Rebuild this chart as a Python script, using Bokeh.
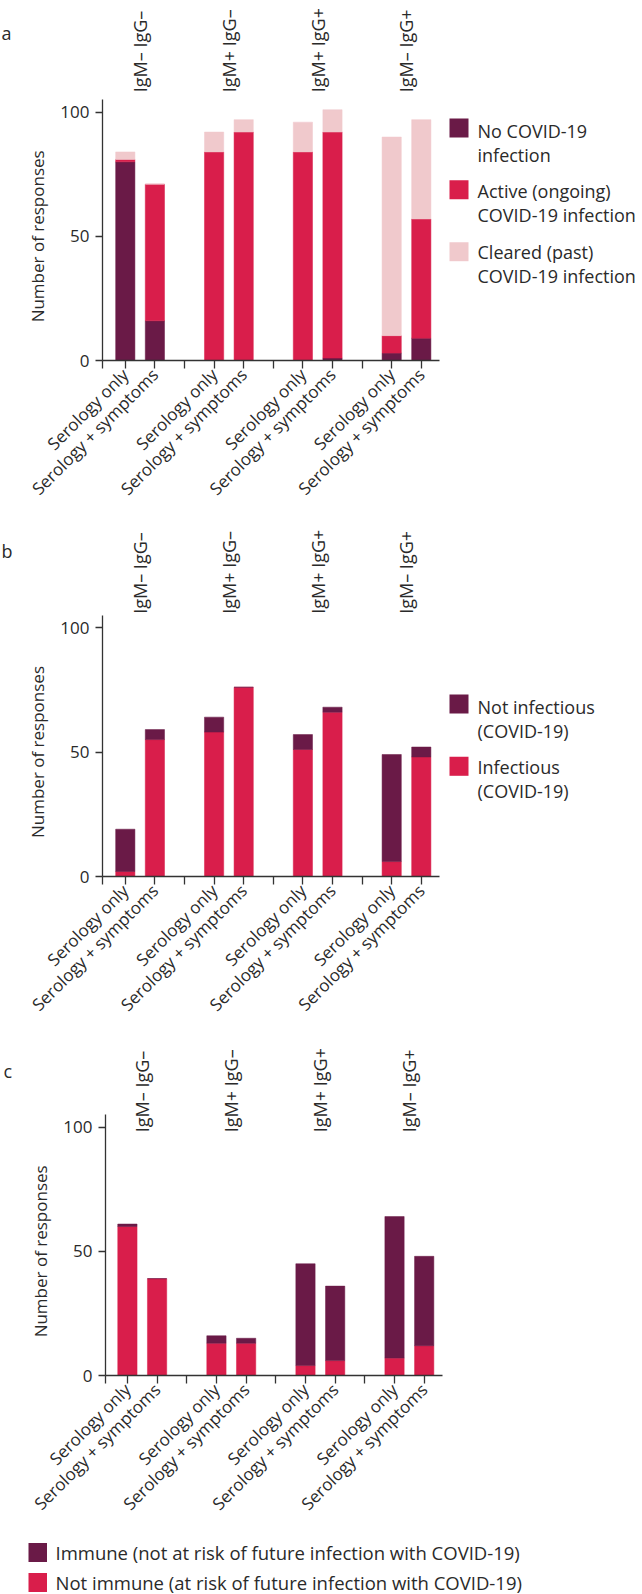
import math
from bokeh.plotting import figure
from bokeh.models import Range1d, FixedTicker, ColumnDataSource, CustomJSTickFormatter
from bokeh.layouts import column
from bokeh.embed import file_html
from bokeh.resources import INLINE
from bokeh.core.properties import value

# ---------------- data ----------------
groups = ["IgM– IgG–", "IgM+ IgG–", "IgM+ IgG+", "IgM– IgG+"]
tests = ["Serology only", "Serology + symptoms"]

# panel a
a_no_infection = [80, 16, 0, 0, 0, 1, 3, 9]
a_active = [1, 55, 84, 92, 84, 91, 7, 48]
a_cleared = [3, 0, 8, 5, 12, 9, 80, 40]
a_legend = [["No COVID-19", "infection"],
            ["Active (ongoing)", "COVID-19 infection"],
            ["Cleared (past)", "COVID-19 infection"]]

# panel b
b_infectious = [2, 55, 58, 76, 51, 66, 6, 48]
b_not_infectious = [17, 4, 6, 0, 6, 2, 43, 4]
b_legend = [["Not infectious", "(COVID-19)"], ["Infectious", "(COVID-19)"]]

# panel c
c_not_immune = [60, 39, 13, 13, 4, 6, 7, 12]
c_immune = [1, 0, 3, 2, 41, 30, 57, 36]
c_legend = ["Immune (not at risk of future infection with COVID-19)",
            "Not immune (at risk of future infection with COVID-19)"]

y_ticks = [0, 50, 100]
y_label = "Number of responses"

# ---------------- style ----------------
DARK = "#6a1a47"
RED = "#d91e4b"
PINK = "#f0c9cc"
FONT = "Open Sans"
TXT = "#2a2a2a"
AX = "#333333"
W = 642

xs = [3 * g + t + 1 for g in range(len(groups)) for t in range(len(tests))]
names = [tests[t] for g in range(len(groups)) for t in range(len(tests))]
gap_ticks = [3 * g + 3 for g in range(len(groups) - 1)]
group_x = [3 * g + 1.5 for g in range(len(groups))]


def txt(p, x, y, text, size="18px", angle=0.0, align="left"):
    p.text(x=x, y=y, text=text, angle=angle, text_align=align, text_baseline="middle",
           text_font=value(FONT), text_font_size=value(size), text_color=TXT)


def make_panel(fig_top, H, zero_y, left, x0, u, k, letter, letter_xy, ylab_x, label_start_y,
               stackers, colors, data):
    """zero_y/left: page position of the axes origin; u, k: pixels per unit."""
    X0 = x0 - left / u
    X1 = X0 + W / u
    frame_bottom = zero_y
    Ytop = (zero_y - fig_top) / k
    Ybot = (zero_y - fig_top - H) / k

    def px(pagex):
        return x0 + (pagex - left) / u

    def py(pagey):
        return (frame_bottom - pagey) / k

    p = figure(width=W, height=H, x_range=Range1d(X0, X1), y_range=Range1d(Ybot, Ytop),
               output_backend="svg", toolbar_location=None, min_border=0,
               min_border_left=0, min_border_right=0, min_border_top=0, min_border_bottom=0)
    p.outline_line_color = None
    p.grid.visible = False
    p.background_fill_color = "white"
    p.border_fill_color = "white"

    src = ColumnDataSource(dict(x=xs, **data))
    p.vbar_stack(stackers, x="x", width=0.65, fill_color=colors, line_color=colors,
                 line_width=0.5, source=src)

    # y axis
    ya = p.yaxis[0]
    ya.fixed_location = x0
    ya.bounds = (0, 105)
    ya.ticker = FixedTicker(ticks=y_ticks)
    ya.major_label_text_font = FONT
    ya.major_label_text_font_size = "17px"
    ya.major_label_text_color = TXT
    ya.major_label_standoff = 6
    ya.major_tick_out = 7
    ya.major_tick_in = 0
    ya.minor_tick_out = 0
    ya.minor_tick_in = 0
    ya.axis_line_color = AX
    ya.major_tick_line_color = AX
    ya.axis_line_width = 1.3
    ya.major_tick_line_width = 1.3

    # x axis
    xa = p.xaxis[0]
    xa.fixed_location = 0
    xa.bounds = (x0, 11.6)
    xa.ticker = FixedTicker(ticks=sorted([x0] + xs + gap_ticks))
    xa.formatter = CustomJSTickFormatter(args=dict(xs=xs, names=names), code="""
        const i = xs.indexOf(tick);
        return i >= 0 ? names[i] : "";
    """)
    xa.major_label_orientation = math.pi / 4
    xa.major_label_text_font = FONT
    xa.major_label_text_font_size = "17px"
    xa.major_label_text_color = TXT
    xa.major_label_standoff = 3
    xa.major_tick_out = 8
    xa.major_tick_in = 0
    xa.minor_tick_out = 0
    xa.minor_tick_in = 0
    xa.axis_line_color = AX
    xa.major_tick_line_color = AX
    xa.axis_line_width = 1.3
    xa.major_tick_line_width = 1.3

    # axis title, centred on the 50 tick
    txt(p, [px(ylab_x)], [50], [y_label], size="17px", angle=math.pi / 2, align="center")
    # panel letter
    txt(p, [px(letter_xy[0])], [py(letter_xy[1])], [letter])
    # group labels (vertical)
    txt(p, group_x, [py(label_start_y)] * len(group_x), groups, angle=math.pi / 2)
    return p, px, py


def box_legend(p, px, py, rows, sw_l, sw_r, tx, line_gap, size="18px"):
    for (lines, col, sw_c, t_c) in rows:
        p.quad(left=[px(sw_l)], right=[px(sw_r)], top=[py(sw_c - 9.5)], bottom=[py(sw_c + 9.5)],
               fill_color=col, line_color=None)
        txt(p, [px(tx)] * len(lines), [py(t_c + line_gap * i) for i in range(len(lines))], lines,
            size=size)


pa, pxa, pya = make_panel(fig_top=0, H=520, zero_y=360, left=102, x0=0.23, u=29.6, k=2.483,
                          letter="a", letter_xy=(1, 32), ylab_x=37, label_start_y=91.7,
                          stackers=["no_inf", "active", "cleared"], colors=[DARK, RED, PINK],
                          data=dict(no_inf=a_no_infection, active=a_active, cleared=a_cleared))
box_legend(pa, pxa, pya, [(a_legend[0], DARK, 127.5, 130),
                          (a_legend[1], RED, 189.3, 190),
                          (a_legend[2], PINK, 251.2, 251.7)], 449, 468, 477, 24)

pb, pxb, pyb = make_panel(fig_top=520, H=516, zero_y=876, left=102, x0=0.23, u=29.6, k=2.49,
                          letter="b", letter_xy=(1, 550), ylab_x=37, label_start_y=613.3,
                          stackers=["inf", "not_inf"], colors=[RED, DARK],
                          data=dict(inf=b_infectious, not_inf=b_not_infectious))
box_legend(pb, pxb, pyb, [(b_legend[0], DARK, 703.5, 706.7),
                          (b_legend[1], RED, 765.8, 766.7)], 449, 468, 477, 24)

pc, pxc, pyc = make_panel(fig_top=1036, H=558, zero_y=1375, left=105, x0=0.262, u=29.68, k=2.483,
                          letter="c", letter_xy=(3, 1070), ylab_x=40, label_start_y=1131.7,
                          stackers=["not_imm", "imm"], colors=[RED, DARK],
                          data=dict(not_imm=c_not_immune, imm=c_immune))
box_legend(pc, pxc, pyc, [([c_legend[0]], DARK, 1552, 1552),
                          ([c_legend[1]], RED, 1582, 1582)], 28, 46.5, 55, 0, size="18.5px")

layout = column(pa, pb, pc, spacing=0)
open("out.html", "w").write(file_html(layout, INLINE))
